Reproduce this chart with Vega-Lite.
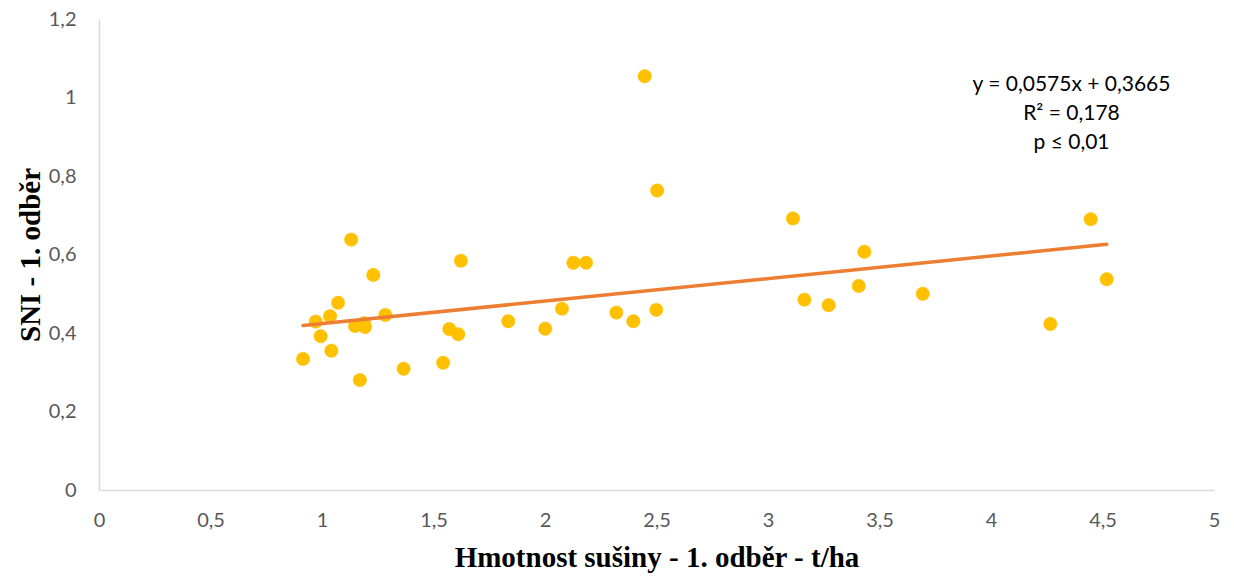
{
  "$schema": "https://vega.github.io/schema/vega-lite/v6.json",
  "width": 1115,
  "height": 471,
  "autosize": "none",
  "padding": {"left": 99, "top": 19, "right": 20, "bottom": 86},
  "background": "white",
  "config": {"view": {"stroke": null}, "font": "Lato"},
  "datasets": {
    "points": [
      {"x": 0.915, "y": 0.334}, {"x": 0.972, "y": 0.429}, {"x": 0.994, "y": 0.392},
      {"x": 1.036, "y": 0.443}, {"x": 1.042, "y": 0.355}, {"x": 1.072, "y": 0.477},
      {"x": 1.131, "y": 0.638}, {"x": 1.148, "y": 0.418}, {"x": 1.170, "y": 0.280},
      {"x": 1.188, "y": 0.425}, {"x": 1.193, "y": 0.415}, {"x": 1.230, "y": 0.548},
      {"x": 1.284, "y": 0.446}, {"x": 1.366, "y": 0.309}, {"x": 1.543, "y": 0.324},
      {"x": 1.571, "y": 0.410}, {"x": 1.611, "y": 0.397}, {"x": 1.623, "y": 0.584},
      {"x": 1.835, "y": 0.430}, {"x": 2.001, "y": 0.411}, {"x": 2.076, "y": 0.462},
      {"x": 2.127, "y": 0.579}, {"x": 2.184, "y": 0.579}, {"x": 2.320, "y": 0.452},
      {"x": 2.396, "y": 0.430}, {"x": 2.447, "y": 1.054}, {"x": 2.499, "y": 0.459},
      {"x": 2.503, "y": 0.763}, {"x": 3.112, "y": 0.692}, {"x": 3.163, "y": 0.485},
      {"x": 3.272, "y": 0.471}, {"x": 3.407, "y": 0.520}, {"x": 3.432, "y": 0.607},
      {"x": 3.694, "y": 0.500}, {"x": 4.266, "y": 0.423}, {"x": 4.447, "y": 0.690},
      {"x": 4.519, "y": 0.537}
    ],
    "trend": [
      {"x": 0.915, "y": 0.419},
      {"x": 4.519, "y": 0.626}
    ]
  },
  "layer": [
    {
      "data": {"name": "points"},
      "mark": {"type": "point", "filled": true, "size": 180, "color": "#FFC000", "opacity": 1, "stroke": "#FFC000", "strokeWidth": 0.5},
      "encoding": {
        "x": {
          "field": "x", "type": "quantitative",
          "scale": {"domain": [0, 5], "nice": false, "zero": true},
          "axis": {
            "values": [0, 0.5, 1, 1.5, 2, 2.5, 3, 3.5, 4, 4.5, 5],
            "format": ".1~f",
            "labelExpr": "replace(datum.label, '.', ',')",
            "title": "Hmotnost sušiny - 1. odběr - t/ha",
            "titleFont": "Liberation Serif", "titleFontSize": 29, "titleFontWeight": "bold", "titleColor": "#000000",
            "titlePadding": 13,
            "labelFont": "Lato", "labelFontSize": 20, "labelColor": "#595959", "labelPadding": 20,
            "domainColor": "#D9D9D9", "domainWidth": 1.5,
            "ticks": false, "grid": false, "labelFlush": false
          }
        },
        "y": {
          "field": "y", "type": "quantitative",
          "scale": {"domain": [0, 1.2], "nice": false},
          "axis": {
            "values": [0, 0.2, 0.4, 0.6, 0.8, 1, 1.2],
            "format": ".1~f",
            "labelExpr": "replace(datum.label, '.', ',')",
            "title": "SNI - 1. odběr",
            "titleFont": "Liberation Serif", "titleFontSize": 29, "titleFontWeight": "bold", "titleColor": "#000000",
            "titlePadding": 3,
            "labelFont": "Lato", "labelFontSize": 20, "labelColor": "#595959", "labelPadding": 23,
            "domainColor": "#D9D9D9", "domainWidth": 1.5,
            "ticks": false, "grid": false, "labelFlush": false
          }
        }
      }
    },
    {
      "data": {"name": "trend"},
      "mark": {"type": "line", "color": "#ED7D31", "strokeWidth": 3.5, "strokeCap": "round"},
      "encoding": {
        "x": {"field": "x", "type": "quantitative"},
        "y": {"field": "y", "type": "quantitative"}
      }
    },
    {
      "data": {"values": [{}]},
      "mark": {
        "type": "text",
        "text": ["y = 0,0575x + 0,3665", "R² = 0,178", "p ≤ 0,01"],
        "font": "Lato", "fontSize": 21, "lineHeight": 29, "align": "center", "baseline": "middle", "color": "#000000"
      },
      "encoding": {
        "x": {"datum": 4.361, "type": "quantitative"},
        "y": {"datum": 1.032, "type": "quantitative"}
      }
    }
  ]
}
